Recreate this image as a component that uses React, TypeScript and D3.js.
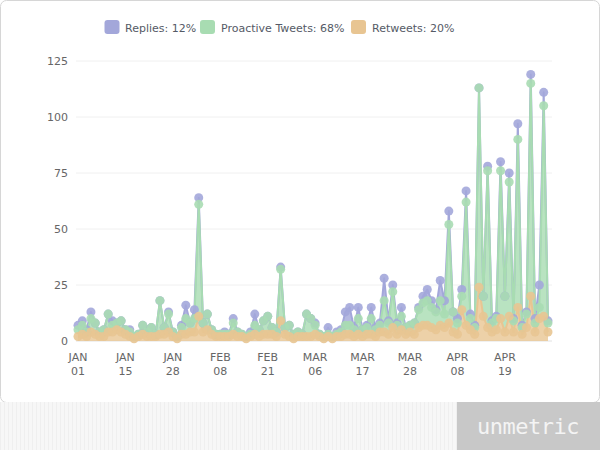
import React from "react";
import * as d3 from "d3";

const tickLabels = ["JAN 01", "JAN 15", "JAN 28", "FEB 08", "FEB 21", "MAR 06", "MAR 17", "MAR 28", "APR 08", "APR 19"];
const tickStep = 11;
const yTicks = [0, 25, 50, 75, 100, 125];

const retweets = [
  2, 3, 2, 4, 3, 2, 2, 4, 4, 5,
  4, 3, 2, 1, 2, 3, 2, 2, 2, 3,
  3, 4, 2, 1, 3, 3, 4, 4, 11, 4,
  5, 3, 2, 2, 2, 2, 3, 2, 2, 1,
  2, 3, 2, 3, 3, 3, 2, 9, 3, 2,
  1, 2, 2, 2, 2, 3, 2, 1, 2, 1,
  2, 2, 3, 3, 2, 3, 2, 3, 3, 2,
  4, 4, 3, 6, 3, 5, 3, 4, 3, 6,
  7, 7, 6, 5, 7, 6, 8, 4, 3, 14,
  7, 5, 3, 24, 11, 6, 4, 5, 10, 4,
  11, 4, 15, 3, 6, 20, 4, 10, 11, 4,
];
const proactive = [
  3, 4, 2, 6, 5, 2, 3, 8, 3, 3,
  5, 2, 2, 1, 1, 4, 2, 4, 1, 15,
  3, 8, 2, 1, 3, 7, 4, 6, 50, 4,
  7, 2, 1, 1, 1, 1, 5, 2, 1, 1,
  1, 4, 3, 6, 8, 3, 2, 23, 3, 5,
  2, 2, 1, 10, 8, 4, 1, 1, 1, 1,
  1, 2, 4, 4, 3, 7, 3, 3, 7, 3,
  3, 14, 5, 16, 4, 6, 3, 3, 5, 8,
  10, 11, 9, 8, 11, 6, 44, 9, 5, 6,
  55, 5, 3, 89, 9, 70, 4, 5, 66, 16,
  60, 5, 75, 3, 6, 95, 4, 5, 94, 4,
];
const replies = [
  2, 2, 1, 3, 0, 0, 0, 0, 2, 0,
  0, 0, 1, 0, 0, 0, 1, 0, 0, 0,
  0, 1, 0, 0, 1, 6, 0, 4, 3, 0,
  0, 0, 0, 0, 1, 0, 2, 0, 0, 0,
  1, 5, 0, 0, 0, 0, 0, 1, 0, 0,
  0, 0, 0, 0, 0, 1, 0, 0, 3, 0,
  1, 1, 6, 8, 1, 5, 0, 1, 5, 1,
  1, 10, 1, 3, 1, 4, 0, 0, 0, 1,
  3, 5, 3, 1, 9, 6, 6, 0, 2, 3,
  5, 2, 1, 0, 0, 2, 1, 1, 4, 0,
  4, 1, 7, 1, 1, 4, 2, 10, 6, 1,
];

const seriesNames = ["Replies", "Proactive Tweets", "Retweets"];
const seriesShares = ["12%", "68%", "20%"];
const seriesColors = ["#a3a7da", "#a8dcb2", "#e8c592"];

export default function App() {
  const W = 600, H = 450;
  const left = 78, right = 548, top = 61, bottom = 341;
  const n = retweets.length;
  const idx = d3.range(n);
  const x = d3.scalePoint<number>().domain(idx).range([left, right]);
  const y = d3.scaleLinear().domain([0, 125]).range([bottom, top]);

  const table = idx.map((i) => ({ i, Retweets: retweets[i], Proactive: proactive[i], Replies: replies[i] }));
  const stack = d3.stack<any>().keys(["Retweets", "Proactive", "Replies"]);
  const layers = stack(table);
  const colorFor: Record<string, string> = { Retweets: seriesColors[2], Proactive: seriesColors[1], Replies: seriesColors[0] };

  const area = d3.area<any>().x((d) => x(d.data.i)!).y0((d) => y(d[0])).y1((d) => y(d[1]));
  const line = d3.line<any>().x((d) => x(d.data.i)!).y((d) => y(d[1]));

  const drawOrder = [layers[2], layers[1], layers[0]];

  const legendItems = [
    { sq: 104.5, tx: 125 },
    { sq: 200, tx: 221 },
    { sq: 351, tx: 372 },
  ];

  return (
    <svg width={W} height={H} style={{ position: "absolute", left: 0, top: 0, display: "block" }} fontFamily="'DejaVu Sans', sans-serif">
      <defs>
        <pattern id="stripes" width="4" height="10" patternUnits="userSpaceOnUse">
          <rect width="4" height="10" fill="#f7f7f7" />
          <rect width="1" height="10" fill="#efefef" />
        </pattern>
      </defs>
      <rect x={0} y={0} width={W} height={H} fill="#ffffff" />
      <rect x={0.5} y={0.5} width={599} height={402} rx={6} fill="#ffffff" stroke="#d6d6d6" />
      <rect x={0} y={402} width={457} height={48} fill="url(#stripes)" />
      <rect x={457} y={402} width={143} height={48} fill="#c8c8c8" />
      <text x={528} y={434} textAnchor="middle" fill="#f4f4f4" fontFamily="'DejaVu Sans Mono', monospace" fontSize={22} letterSpacing={-0.5}>unmetric</text>

      {yTicks.map((t) => (
        <g key={t}>
          <line x1={76} x2={552} y1={y(t)} y2={y(t)} stroke={t === 0 ? "#e2e2e2" : "#f0f0f0"} strokeWidth={1} />
          <text x={68} y={y(t) + 4} textAnchor="end" fontSize={11} fill="#666">{t}</text>
        </g>
      ))}

      {drawOrder.map((layer) => (
        <path key={"a" + layer.key} d={area(layer) || ""} fill={colorFor[layer.key]} fillOpacity={0.8} stroke="none" />
      ))}
      {drawOrder.map((layer) => (
        <path key={"l" + layer.key} d={line(layer) || ""} fill="none" stroke={colorFor[layer.key]} strokeWidth={2} strokeLinejoin="round" />
      ))}
      {drawOrder.map((layer) => (
        <g key={"m" + layer.key}>
          {layer.map((d: any) => (
            <circle key={d.data.i} cx={x(d.data.i)} cy={y(d[1])} r={4.5} fill={colorFor[layer.key]} fillOpacity={0.9} />
          ))}
        </g>
      ))}

      {tickLabels.map((lab, k) => {
        const [m, dd] = lab.split(" ");
        const cx = x(k * tickStep)!;
        return (
          <text key={lab} x={cx} textAnchor="middle" fontSize={11} fill="#666">
            <tspan x={cx} y={361}>{m}</tspan>
            <tspan x={cx} y={375}>{dd}</tspan>
          </text>
        );
      })}

      {seriesNames.map((nm, k) => (
        <g key={nm}>
          <rect x={legendItems[k].sq} y={20} width={15} height={14} rx={3} fill={seriesColors[k]} />
          <text x={legendItems[k].tx} y={31.5} fontSize={11} fill="#555a66">{`${nm}: ${seriesShares[k]}`}</text>
        </g>
      ))}
    </svg>
  );
}
